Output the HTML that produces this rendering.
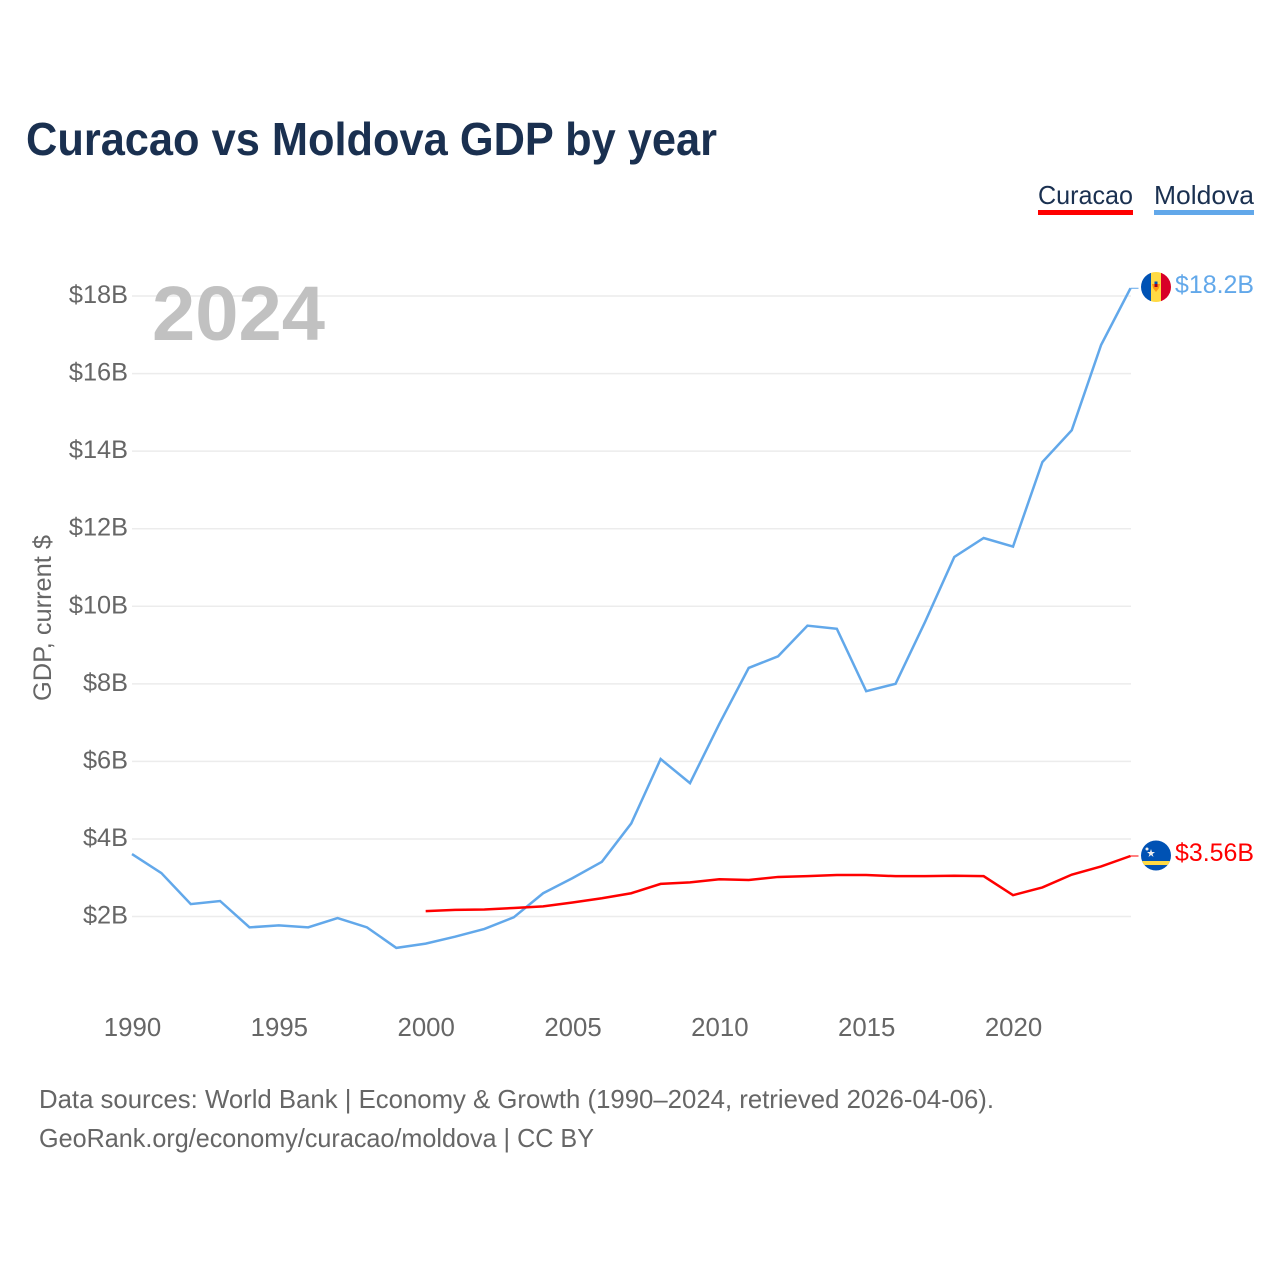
<!DOCTYPE html>
<html>
<head>
<meta charset="utf-8">
<title>Curacao vs Moldova GDP by year</title>
<style>
html,body{margin:0;padding:0;background:#fff;width:1280px;height:1280px;overflow:hidden}
svg{display:block}
text{font-family:"Liberation Sans",sans-serif}
</style>
</head>
<body>
<svg id="chart" width="1280" height="1280" viewBox="0 0 1280 1280" xmlns="http://www.w3.org/2000/svg">
  <rect width="1280" height="1280" fill="#fff"/>
  <text x="26" y="155" font-size="46" font-weight="700" fill="#1a3050" textLength="691" lengthAdjust="spacingAndGlyphs">Curacao vs Moldova GDP by year</text>

  <g>
    <g>
      <text x="1038" y="204" font-size="26" fill="#1a3050" textLength="95" lengthAdjust="spacingAndGlyphs">Curacao</text>
      <rect x="1038" y="210" width="95" height="5" fill="#ff0000"/>
    </g>
    <g>
      <text x="1154" y="204" font-size="26" fill="#1a3050" textLength="100" lengthAdjust="spacingAndGlyphs">Moldova</text>
      <rect x="1154" y="210" width="100" height="5" fill="#62a8ea"/>
    </g>
  </g>

  <g id="grid"></g>
  <g id="yticks"></g>
  <g id="xticks"></g>

  <text x="152" y="340" font-size="77" font-weight="700" fill="#c1c1c1" textLength="173" lengthAdjust="spacingAndGlyphs">2024</text>
  <text transform="translate(51,701) rotate(-90)" font-size="25" fill="#666" textLength="166" lengthAdjust="spacingAndGlyphs">GDP, current $</text>

  <g id="series"></g>

  <g>
    <clipPath id="clip-md"><circle cx="1156" cy="287" r="15"/></clipPath>
    <g clip-path="url(#clip-md)">
      <rect x="1141" y="272" width="10" height="30" fill="#0052b4"/>
      <rect x="1151" y="272" width="11" height="30" fill="#ffda44"/>
      <rect x="1161" y="272" width="10" height="30" fill="#d80027"/>
      <path d="M1152 284h8l-1 4-3 4-3-4z" fill="#ff9811"/>
      <rect x="1154.500" y="284" width="3" height="3" fill="#a2001d"/>
      <rect x="1154.500" y="281.500" width="3" height="2.500" fill="#0052b4"/>
    </g>
  </g>
  <g>
    <clipPath id="clip-cw"><circle cx="1156" cy="855.500" r="15"/></clipPath>
    <g clip-path="url(#clip-cw)">
      <rect x="1141" y="840" width="30" height="31" fill="#0052b4"/>
      <rect x="1141" y="861" width="30" height="4" fill="#ffda44"/>
      <polygon points="1151,849 1152,852 1155,852 1152.500,854 1153.500,857 1151,855 1148.500,857 1149.500,854 1147,852 1150,852" fill="#f0f0f0"/>
      <circle cx="1147" cy="849" r="1.500" fill="#f0f0f0"/>
    </g>
  </g>
  <text x="1175" y="293" font-size="25" fill="#62a8ea" textLength="79" lengthAdjust="spacingAndGlyphs">$18.2B</text>
  <text x="1175" y="861" font-size="25" fill="#ff0000" textLength="79" lengthAdjust="spacingAndGlyphs">$3.56B</text>

  <text x="39" y="1108" font-size="26" fill="#666" textLength="955" lengthAdjust="spacingAndGlyphs">Data sources: World Bank | Economy &amp; Growth (1990–2024, retrieved 2026-04-06).</text>
  <text x="39" y="1147" font-size="26" fill="#666" textLength="555" lengthAdjust="spacingAndGlyphs">GeoRank.org/economy/curacao/moldova | CC BY</text>
</svg>
<script>
const years = [1990,1991,1992,1993,1994,1995,1996,1997,1998,1999,2000,2001,2002,2003,2004,2005,2006,2007,2008,2009,2010,2011,2012,2013,2014,2015,2016,2017,2018,2019,2020,2021,2022,2023,2024];
const moldovaValues = [3.61,3.12,2.32,2.40,1.72,1.77,1.72,1.96,1.72,1.19,1.30,1.48,1.68,1.98,2.60,2.99,3.41,4.40,6.06,5.44,6.97,8.41,8.71,9.50,9.42,7.81,8.00,9.59,11.27,11.76,11.54,13.72,14.54,16.74,18.20];
const curacaoValues = [null,null,null,null,null,null,null,null,null,null,2.14,2.17,2.18,2.22,2.26,2.36,2.47,2.60,2.84,2.88,2.96,2.94,3.02,3.04,3.07,3.07,3.04,3.04,3.05,3.04,2.55,2.75,3.08,3.29,3.56];
const yTickValues = [2,4,6,8,10,12,14,16,18];
const yTickLabels = ["$2B","$4B","$6B","$8B","$10B","$12B","$14B","$16B","$18B"];
const xTickValues = [1990,1995,2000,2005,2010,2015,2020];

const NS = 'http://www.w3.org/2000/svg';
const xScale = function (year) { return 132 + (year - 1990) * (1130.5 - 132) / 34; };
const yScale = function (value) { return 916.5 - (value - 2) * 38.78; };
const gridLayer = document.getElementById('grid');
const yLayer = document.getElementById('yticks');
const xLayer = document.getElementById('xticks');
const seriesLayer = document.getElementById('series');

yTickValues.forEach(function (value, i) {
  const line = document.createElementNS(NS, 'line');
  
  
  line.setAttribute('x1', 132);
  line.setAttribute('x2', 1131);
  line.setAttribute('y1', yScale(value));
  line.setAttribute('y2', yScale(value));
  line.setAttribute('stroke', '#ececec');
  line.setAttribute('stroke-width', 1.5);
  gridLayer.appendChild(line);
  const label = document.createElementNS(NS, 'text');
  
  
  label.setAttribute('x', 128);
  label.setAttribute('y', yScale(value) + 7);
  label.setAttribute('text-anchor', 'end');
  label.setAttribute('font-size', 25.3);
  label.setAttribute('fill', '#666');
  label.textContent = yTickLabels[i];
  yLayer.appendChild(label);
});

xTickValues.forEach(function (year) {
  const label = document.createElementNS(NS, 'text');
  
  
  label.setAttribute('x', xScale(year) + 0.5);
  label.setAttribute('y', 1036);
  label.setAttribute('text-anchor', 'middle');
  label.setAttribute('font-size', 25.8);
  label.setAttribute('fill', '#666');
  label.textContent = String(year);
  xLayer.appendChild(label);
});

function pathFor(values) {
  const points = [];
  values.forEach(function (value, i) {
    if (value !== null) {
      points.push(xScale(years[i]).toFixed(2) + ',' + yScale(value).toFixed(2));
    }
  });
  return 'M' + points.join('L');
}

function lastPoint(values) {
  const i = values.length - 1;
  return { x: xScale(years[i]), y: yScale(values[i]) };
}

const moldovaLine = document.createElementNS(NS, 'path');


moldovaLine.setAttribute('d', pathFor(moldovaValues));
moldovaLine.setAttribute('fill', 'none');
moldovaLine.setAttribute('stroke', '#62a8ea');
moldovaLine.setAttribute('stroke-width', 2.5);
seriesLayer.appendChild(moldovaLine);

const curacaoLine = document.createElementNS(NS, 'path');


curacaoLine.setAttribute('d', pathFor(curacaoValues));
curacaoLine.setAttribute('fill', 'none');
curacaoLine.setAttribute('stroke', '#ff0000');
curacaoLine.setAttribute('stroke-width', 2.5);
seriesLayer.appendChild(curacaoLine);

const moldovaEnd = lastPoint(moldovaValues);
const moldovaConnector = document.createElementNS(NS, 'line');


moldovaConnector.setAttribute('x1', moldovaEnd.x);
moldovaConnector.setAttribute('x2', moldovaEnd.x + 8);
moldovaConnector.setAttribute('y1', moldovaEnd.y);
moldovaConnector.setAttribute('y2', moldovaEnd.y);
moldovaConnector.setAttribute('stroke', '#62a8ea');
moldovaConnector.setAttribute('stroke-width', 1);
seriesLayer.appendChild(moldovaConnector);

const curacaoEnd = lastPoint(curacaoValues);
const curacaoConnector = document.createElementNS(NS, 'line');


curacaoConnector.setAttribute('x1', curacaoEnd.x);
curacaoConnector.setAttribute('x2', curacaoEnd.x + 8);
curacaoConnector.setAttribute('y1', curacaoEnd.y);
curacaoConnector.setAttribute('y2', curacaoEnd.y);
curacaoConnector.setAttribute('stroke', '#ff0000');
curacaoConnector.setAttribute('stroke-width', 1);
seriesLayer.appendChild(curacaoConnector);
</script>
</body>
</html>
